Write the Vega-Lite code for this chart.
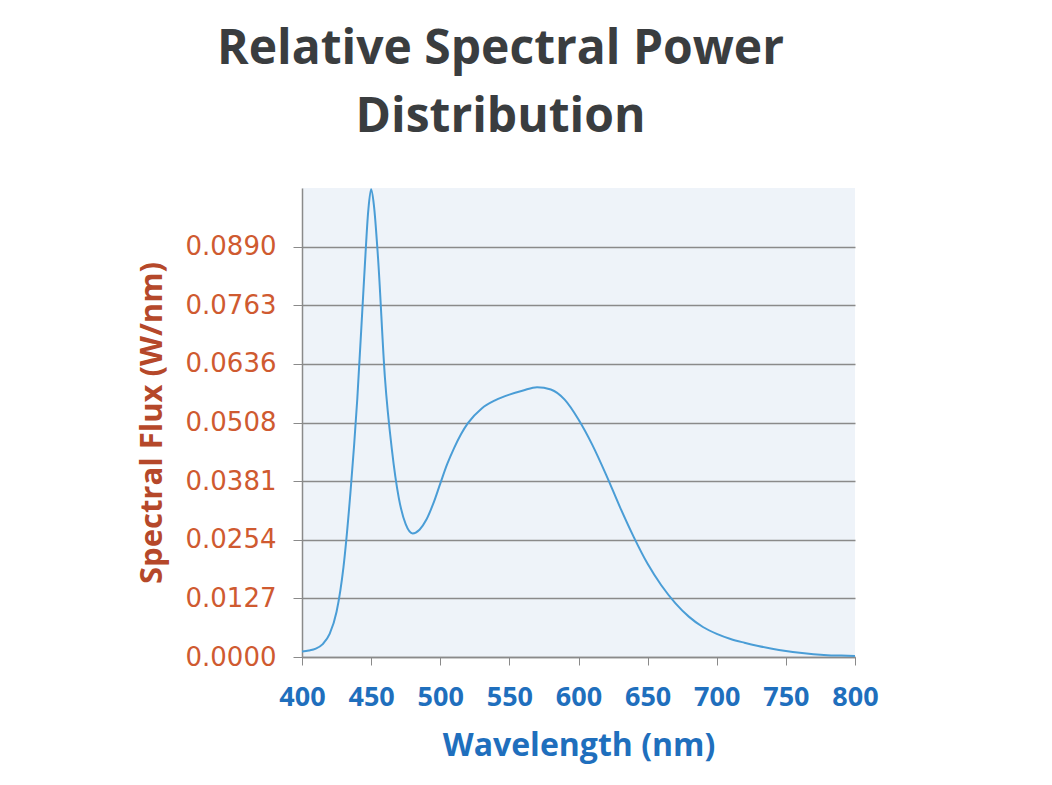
{
  "$schema": "https://vega.github.io/schema/vega-lite/v6.json",
  "width": 553,
  "height": 469,
  "autosize": "none",
  "padding": {"left": 302, "top": 188, "right": 197, "bottom": 128},
  "background": "white",
  "title": {
    "text": ["Relative Spectral Power", "Distribution"],
    "font": "Open Sans",
    "fontWeight": "bold",
    "fontSize": 48,
    "color": "#3a3d3f",
    "anchor": "middle",
    "dx": -78,
    "lineHeight": 68,
    "offset": 43
  },
  "config": {
    "view": {"fill": "#eef3f9", "stroke": null}
  },
  "data": {
    "values": [
      {"wl": 400, "flux": 0.0012},
      {"wl": 405, "flux": 0.0014},
      {"wl": 410, "flux": 0.0018},
      {"wl": 415, "flux": 0.0028},
      {"wl": 420, "flux": 0.0050},
      {"wl": 425, "flux": 0.0098},
      {"wl": 430, "flux": 0.0195},
      {"wl": 435, "flux": 0.0355},
      {"wl": 440, "flux": 0.0560},
      {"wl": 445, "flux": 0.0825},
      {"wl": 448, "flux": 0.0970},
      {"wl": 450, "flux": 0.1014},
      {"wl": 452, "flux": 0.0980},
      {"wl": 455, "flux": 0.0865},
      {"wl": 460, "flux": 0.0605},
      {"wl": 465, "flux": 0.0450},
      {"wl": 470, "flux": 0.0345},
      {"wl": 475, "flux": 0.0288},
      {"wl": 480, "flux": 0.0268},
      {"wl": 485, "flux": 0.0276},
      {"wl": 490, "flux": 0.0298},
      {"wl": 495, "flux": 0.0333},
      {"wl": 500, "flux": 0.0376},
      {"wl": 505, "flux": 0.0418},
      {"wl": 510, "flux": 0.0453},
      {"wl": 515, "flux": 0.0483},
      {"wl": 520, "flux": 0.0507},
      {"wl": 530, "flux": 0.0539},
      {"wl": 540, "flux": 0.0557},
      {"wl": 550, "flux": 0.0569},
      {"wl": 560, "flux": 0.0578},
      {"wl": 570, "flux": 0.0585},
      {"wl": 580, "flux": 0.0580},
      {"wl": 590, "flux": 0.0558},
      {"wl": 600, "flux": 0.0515},
      {"wl": 610, "flux": 0.0460},
      {"wl": 620, "flux": 0.0395},
      {"wl": 630, "flux": 0.0325},
      {"wl": 640, "flux": 0.0260},
      {"wl": 650, "flux": 0.0202},
      {"wl": 660, "flux": 0.0155},
      {"wl": 670, "flux": 0.0117},
      {"wl": 680, "flux": 0.0087},
      {"wl": 690, "flux": 0.0065},
      {"wl": 700, "flux": 0.0050},
      {"wl": 710, "flux": 0.0039},
      {"wl": 720, "flux": 0.0031},
      {"wl": 730, "flux": 0.0024},
      {"wl": 740, "flux": 0.0018},
      {"wl": 750, "flux": 0.0013},
      {"wl": 760, "flux": 0.0009},
      {"wl": 770, "flux": 0.0006},
      {"wl": 780, "flux": 0.0004},
      {"wl": 790, "flux": 0.0003},
      {"wl": 800, "flux": 0.0002}
    ]
  },
  "mark": {"type": "line", "interpolate": "monotone", "color": "#4a9dd6", "strokeWidth": 2},
  "encoding": {
    "x": {
      "field": "wl",
      "type": "quantitative",
      "scale": {"domain": [400, 800], "nice": false, "zero": false},
      "axis": {
        "title": "Wavelength (nm)",
        "values": [400, 450, 500, 550, 600, 650, 700, 750, 800],
        "grid": false,
        "labelOverlap": false,
        "labelFlush": false,
        "domainColor": "#8a8a8a",
        "domainWidth": 1.5,
        "tickColor": "#8a8a8a",
        "tickSize": 8,
        "labelFont": "Open Sans",
        "labelFontWeight": "bold",
        "labelFontSize": 27,
        "labelColor": "#1f6fbd",
        "labelPadding": 19,
        "titleFont": "Open Sans",
        "titleFontWeight": "bold",
        "titleFontSize": 32,
        "titleColor": "#1f6fbd",
        "titlePadding": 20
      }
    },
    "y": {
      "field": "flux",
      "type": "quantitative",
      "scale": {"domain": [0, 0.101688], "nice": false},
      "axis": {
        "title": "Spectral Flux (W/nm)",
        "values": [0, 0.012711, 0.025422, 0.038133, 0.050844, 0.063555, 0.076266, 0.088977],
        "format": ".4f",
        "grid": true,
        "labelOverlap": false,
        "gridColor": "#8a8a8a",
        "gridWidth": 1.5,
        "domainColor": "#8a8a8a",
        "domainWidth": 1.5,
        "tickColor": "#8a8a8a",
        "tickSize": 9,
        "labelFont": "DejaVu Sans",
        "labelFontSize": 26,
        "labelColor": "#cf5a30",
        "labelPadding": 17,
        "titleFont": "Open Sans",
        "titleFontWeight": "bold",
        "titleFontSize": 31,
        "titleColor": "#b5482a",
        "titlePadding": 17
      }
    }
  }
}
